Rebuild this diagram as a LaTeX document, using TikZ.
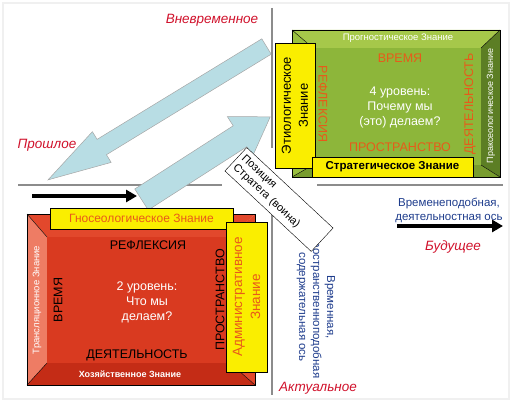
\documentclass[tikz,border=0pt]{standalone}
\usepackage{fontspec}
\setmainfont{Liberation Sans}
\usetikzlibrary{arrows.meta}
\definecolor{axisgray}{RGB}{140,140,140}
\definecolor{labelred}{RGB}{208,17,43}
\definecolor{axisblue}{RGB}{30,60,140}
\definecolor{arrowfill}{RGB}{184,221,228}
\definecolor{boxyellow}{RGB}{250,238,0}
\definecolor{knoworange}{RGB}{232,90,26}
\definecolor{greentop}{RGB}{166,200,74}
\definecolor{greenleft}{RGB}{154,192,64}
\definecolor{greenmid}{RGB}{141,182,58}
\definecolor{greenright}{RGB}{92,126,36}
\definecolor{greenbottom}{RGB}{120,156,46}
\definecolor{redtop}{RGB}{226,72,44}
\definecolor{redleft}{RGB}{238,124,100}
\definecolor{redmid}{RGB}{217,58,32}
\definecolor{redbottom}{RGB}{196,44,22}
\tikzset{
  pics/bigarrow/.style args={#1,#2,#3,#4}{
     code={
       \draw[draw=gray!70, fill=arrowfill, line width=0.5pt]
         (0,-#2) -- ({#1-#4},-#2) -- ({#1-#4},-#3) -- (#1,0)
         -- ({#1-#4},#3) -- ({#1-#4},#2) -- (0,#2) -- cycle;
     }
  }
}

\begin{document}
\begin{tikzpicture}
    [x=1pt, y=-1pt,
    axis/.style={draw=axisgray, line width=2pt},
    timelabel/.style={text=labelred, font=\fontsize{13.5}{16}\selectfont\itshape},
    axislabel/.style={text=axisblue, align=center, font=\fontsize{11.5}{14}\selectfont},
    facet/.style={font=\fontsize{12.5}{15}\selectfont},
    level/.style={text=white, align=center, font=\fontsize{12.5}{15}\selectfont},
    rim/.style={text=white, font=\fontsize{9.5}{11}\selectfont},
    knowbox/.style={draw, fill=boxyellow, inner sep=0pt, align=center, font=\fontsize{13}{16}\selectfont},
    blackarrow/.style={-{Triangle[length=11pt,width=12pt]}, line width=4.5pt}]
    \useasboundingbox (0,0) rectangle (514,404);
    \draw[gray!12, line width=1.5pt] (3,3) rectangle (509,399);
    % axes
    \draw[axis] (272,8) -- (272,148);
    \draw[axis] (272,212) -- (272,395);
    \draw[axis] (18,185) -- (222,185);
    \draw[axis] (317,185) -- (503,185);
    % time labels
    \node[timelabel] (ext) at (212,20) {Вневременное};
    \node[timelabel] (past) at (47,145) {Прошлое};
    \node[timelabel] (future) at (453,247) {Будущее};
    \node[timelabel] (actual) at (318,388) {Актуальное};
    % axis captions
    \node[axislabel] (tcap) at (449,210) {Временеподобная,\\деятельностная ось};
    \node[axislabel, rotate=-90] (scap) at (316,307) {Временная,\\пространственноподобная\\содержательная ось};
    \draw[blackarrow] (32,196) -- (137,196);
    \draw[blackarrow] (397,226) -- (503,226);
    % big arrows
    \draw (266.5,46.5) pic[rotate=211.4]{bigarrow={256,9,18,63}};
    \draw (141.5,199.5) pic[rotate=32.7]{bigarrow={153,12.5,23.5,36}};
    % level 4 box
    \fill[greentop] (292,30) -- (500,30) -- (481,48) -- (313,48) -- cycle;
    \fill[greenleft] (292,30) -- (313,48) -- (313,165) -- (292,177) -- cycle;
    \fill[greenright] (500,30) -- (500,177) -- (481,165) -- (481,48) -- cycle;
    \fill[greenbottom] (292,177) -- (313,165) -- (481,165) -- (500,177) -- cycle;
    \fill[greenmid] (313,48) rectangle (481,165);
    \draw[thin] (292,30) -- (313,48) (500,30) -- (481,48) (292,177) -- (313,165) (500,177) -- (481,165);
    \draw[line width=0.8pt] (292,30) rectangle (500,177);
    \node[rim] (prog) at (398,38) {Прогностическое Знание};
    \node[rim, rotate=90, font=\fontsize{9}{11}\selectfont] (prax) at (491,106) {Праксеологическое Знание};
    \node[facet, text=knoworange] (time4) at (400,58) {ВРЕМЯ};
    \node[facet, text=knoworange] (space4) at (400,147) {ПРОСТРАНСТВО};
    \node[facet, text=knoworange, rotate=-90] (refl4) at (323,104) {РЕФЛЕКСИЯ};
    \node[facet, text=knoworange, rotate=90] (act4) at (470,104) {ДЕЯТЕЛЬНОСТЬ};
    \node[level] (lev4) at (400,107) {4 уровень:\\Почему мы\\(это) делаем?};
    \node[knowbox, minimum width=40, minimum height=125] (etio) at (295,105.5) {};
    \node[rotate=90, align=center, font=\fontsize{13}{17}\selectfont] at (etio) {Этиологическое\\Знание};
    \node[knowbox, minimum width=161, minimum height=20, font=\fontsize{11.5}{14}\selectfont\bfseries] (strat) at (392.5,167) {Стратегическое Знание};
    % level 2 box
    \fill[redtop] (27,214) -- (255,214) -- (230,237) -- (47,237) -- cycle;
    \fill[redleft] (27,214) -- (47,237) -- (47,363) -- (27,385) -- cycle;
    \fill[redbottom] (27,385) -- (47,363) -- (230,363) -- (255,385) -- cycle;
    \fill[redtop] (255,214) -- (255,385) -- (230,363) -- (230,237) -- cycle;
    \fill[redmid] (47,237) rectangle (230,363);
    \draw[thin] (27,214) -- (47,237) (27,385) -- (47,363) (255,385) -- (230,363);
    \draw[line width=0.8pt] (27,214) rectangle (255,385);
    \node[rim, rotate=90] (trans) at (37,300) {Трансляционное Знание};
    \node[rim, font=\fontsize{9}{11}\selectfont\bfseries] (econ) at (130,374) {Хозяйственное Знание};
    \node[facet] (refl2) at (148,245) {РЕФЛЕКСИЯ};
    \node[facet] (act2) at (137,355) {ДЕЯТЕЛЬНОСТЬ};
    \node[facet, rotate=90] (time2) at (58,300) {ВРЕМЯ};
    \node[facet, rotate=90] (space2) at (220,300) {ПРОСТРАНСТВО};
    \node[level] (lev2) at (147,302) {2 уровень:\\Что мы\\делаем?};
    \node[knowbox, minimum width=183, minimum height=21, text=knoworange, font=\fontsize{12}{14}\selectfont] (gnos) at (141.5,218.5) {Гносеологическое Знание};
    \node[knowbox, minimum width=41, minimum height=150] (admin) at (246.5,297) {};
    \node[rotate=90, align=center, text=knoworange, font=\fontsize{13.5}{18}\selectfont] at (admin) {Административное\\Знание};
    % strategist position
    \node[draw, fill=white, rotate=-43, minimum width=118, minimum height=32, inner sep=3pt,
          text width=110pt, align=left, font=\fontsize{11}{12.5}\selectfont] (pos) at (279,199.5) {Позиция\\Стратега (воина)};
\end{tikzpicture}
\end{document}
